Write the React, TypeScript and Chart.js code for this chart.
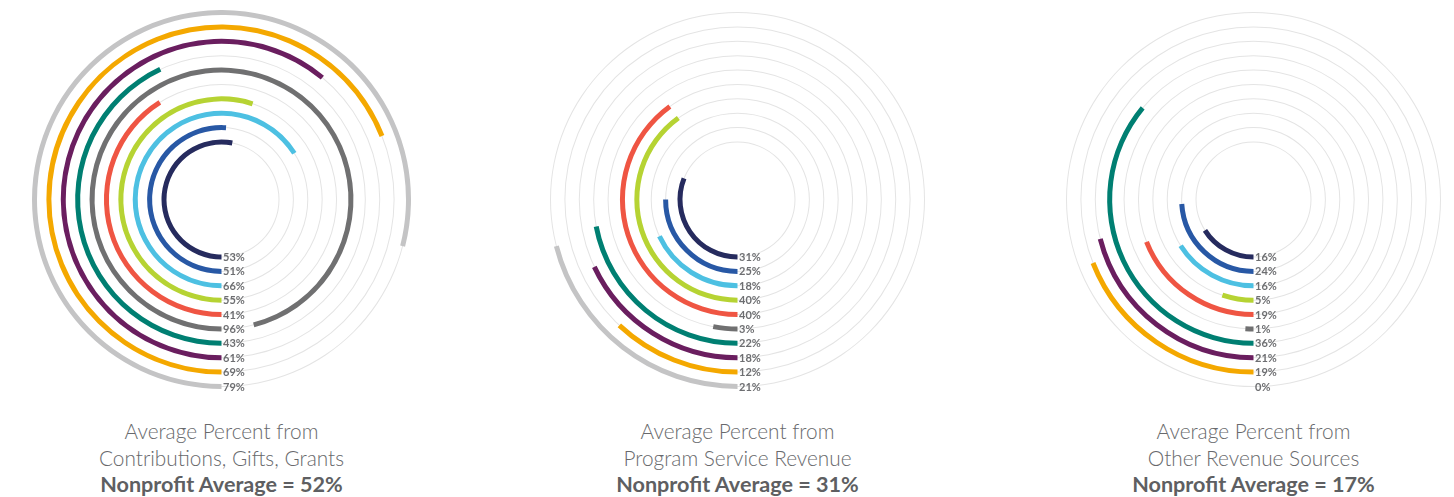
import React, { useEffect, useRef } from "react";
import { Chart, registerables } from "chart.js";

Chart.register(...registerables);

// ---- data ----
const ringColors = [
  "#262b5e",
  "#2858a5",
  "#4dc0e2",
  "#b6d333",
  "#ef5543",
  "#707071",
  "#007f72",
  "#6a1e5f",
  "#f4a800",
  "#c4c4c5",
];
const contributionsValues = [53, 51, 66, 55, 41, 96, 43, 61, 69, 79];
const programServiceValues = [31, 25, 18, 40, 40, 3, 22, 18, 12, 21];
const otherRevenueValues = [16, 24, 16, 5, 19, 1, 36, 21, 19, 0];
const panelValues = [contributionsValues, programServiceValues, otherRevenueValues];
const panelTitleLine1 = ["Average Percent from", "Average Percent from", "Average Percent from"];
const panelTitleLine2 = [
  "Contributions, Gifts, Grants",
  "Program Service Revenue",
  "Other Revenue Sources",
];
const nonprofitAverages = [52, 31, 17];

// ---- layout ----
const SIZE = 379;
const EXTRA_BOTTOM = 12;
const CUTOUT = 55;
const RING_W = 5;
const GAP = (SIZE / 2 - CUTOUT - RING_W * 10) / 9;
const PANEL_LEFT = [32, 548, 1064];
const PANEL_TOP = 10;
const TRANSPARENT = "rgba(0,0,0,0)";
const TRACK = "#e4e4e4";

const labelPlugin = {
  id: "ringLabels",
  afterDatasetsDraw(chart: any) {
    const ctx = chart.ctx;
    ctx.save();
    ctx.font = "bold 11px Lato";
    ctx.fillStyle = "#6d6e71";
    ctx.textBaseline = "middle";
    ctx.textAlign = "left";
    chart.data.datasets.forEach((ds: any, di: number) => {
      if (ds.ringValue === undefined) return;
      const meta = chart.getDatasetMeta(di);
      const arc: any = meta.data[0];
      if (!arc) return;
      const r = (arc.innerRadius + arc.outerRadius) / 2;
      ctx.fillText(ds.ringValue + "%", arc.x + 1.5, arc.y + r + 0.5);
    });
    ctx.restore();
  },
};

function baseOptions() {
  return {
    animation: false as const,
    responsive: false,
    events: [],
    rotation: 180,
    circumference: 360,
    cutout: CUTOUT,
    layout: { padding: { top: 0, left: 0, right: 0, bottom: EXTRA_BOTTOM } },
    plugins: {
      legend: { display: false },
      tooltip: { enabled: false },
      title: { display: false },
    },
  };
}

function trackDatasets() {
  const ds: any[] = [];
  for (let i = 9; i >= 0; i--) {
    ds.push({ data: [100], backgroundColor: [TRANSPARENT], borderWidth: 0, weight: (RING_W - 1) / 2 });
    ds.push({ data: [100], backgroundColor: [TRACK], borderWidth: 0, weight: 1 });
    ds.push({ data: [100], backgroundColor: [TRANSPARENT], borderWidth: 0, weight: (RING_W - 1) / 2 });
    if (i > 0) ds.push({ data: [100], backgroundColor: [TRANSPARENT], borderWidth: 0, weight: GAP });
  }
  return ds;
}

function arcDatasets(values: number[]) {
  const ds: any[] = [];
  for (let i = 9; i >= 0; i--) {
    const v = values[i];
    ds.push({
      data: [v, 100 - v],
      backgroundColor: [ringColors[i], TRANSPARENT],
      borderWidth: 0,
      weight: RING_W,
      ringValue: v,
    });
    if (i > 0) ds.push({ data: [100], backgroundColor: [TRANSPARENT], borderWidth: 0, weight: GAP });
  }
  return ds;
}

function RadialPanel({ index }: { index: number }) {
  const trackRef = useRef<HTMLCanvasElement | null>(null);
  const arcRef = useRef<HTMLCanvasElement | null>(null);

  useEffect(() => {
    const trackChart = new Chart(trackRef.current as HTMLCanvasElement, {
      type: "doughnut",
      data: { labels: ["track"], datasets: trackDatasets() },
      options: baseOptions() as any,
    });
    const arcChart = new Chart(arcRef.current as HTMLCanvasElement, {
      type: "doughnut",
      data: { labels: ["value", "rest"], datasets: arcDatasets(panelValues[index]) },
      options: baseOptions() as any,
      plugins: [labelPlugin],
    });
    return () => {
      trackChart.destroy();
      arcChart.destroy();
    };
  }, [index]);

  const left = PANEL_LEFT[index];
  const cx = left + SIZE / 2;
  const H = SIZE + EXTRA_BOTTOM;
  const canvasStyle: React.CSSProperties = {
    position: "absolute",
    left: 0,
    top: 0,
    width: SIZE,
    height: H,
  };
  return (
    <>
      <div style={{ position: "absolute", left, top: PANEL_TOP, width: SIZE, height: H }}>
        <canvas ref={trackRef} width={SIZE} height={H} style={canvasStyle} />
        <canvas ref={arcRef} width={SIZE} height={H} style={canvasStyle} />
      </div>
      <div
        style={{
          position: "absolute",
          left: cx - 200,
          top: 417,
          width: 400,
          textAlign: "center",
          fontFamily: "Lato, sans-serif",
          fontSize: 20.8,
          lineHeight: "27px",
          color: "#68696c",
          fontWeight: 300,
        }}
      >
        <div>{panelTitleLine1[index]}</div>
        <div>{panelTitleLine2[index]}</div>
        <div style={{ fontWeight: 700, fontSize: 21.6, color: "#5e5f62" }}>
          Nonprofit Average = {nonprofitAverages[index]}%
        </div>
      </div>
    </>
  );
}

export default function App() {
  return (
    <div style={{ position: "absolute", left: 0, top: 0, width: 1454, height: 497, background: "#fff" }}>
      <RadialPanel index={0} />
      <RadialPanel index={1} />
      <RadialPanel index={2} />
    </div>
  );
}
